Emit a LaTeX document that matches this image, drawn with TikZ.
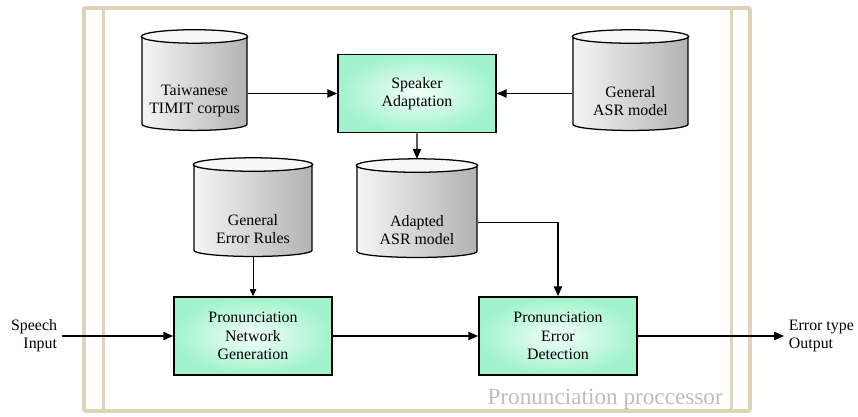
\documentclass[tikz,border=0pt]{standalone}
\usepackage{fontspec}
\setmainfont{Liberation Serif}
\usetikzlibrary{arrows.meta,positioning,shapes.geometric,calc}
\definecolor{Frame}{HTML}{DDD3B9}
\definecolor{Mint}{HTML}{A2F3CD}
\definecolor{MintIn}{HTML}{F3FFF9}
\definecolor{LabelGray}{HTML}{BDBDBD}

\begin{document}
\begin{tikzpicture}[x=0.025cm,y=-0.025cm,
  proc/.style={rectangle,draw=black,line width=1.2pt,inner color=MintIn,outer color=Mint,minimum width=3.95cm,minimum height=1.95cm,align=center,font=\fontsize{11.3}{13}\selectfont},
  dbase/.style={cylinder,shape border rotate=90,aspect=1.3,draw=black,line width=0.9pt,left color=gray!8,right color=gray!60,minimum height=2.5cm},
  dbtop/.style={draw=black,line width=0.9pt,fill=gray!6},
  dbtext/.style={align=center,font=\fontsize{11.3}{13}\selectfont},
  side/.style={font=\fontsize{11.3}{13}\selectfont},
  arr/.style={-{Triangle[length=7pt,width=6pt]},line width=0.9pt},
  arrsm/.style={-{Triangle[length=5pt,width=4.5pt]},line width=0.7pt},
  frame/.style={draw=Frame,line width=2.8pt,rounded corners=1.5pt}
]
\useasboundingbox (0,0) rectangle (858,416);
% frame of the processor
\draw[frame] (84,8) rectangle (750,411);
\draw[frame] (103.5,8) -- (103.5,411);
\draw[frame] (731.5,8) -- (731.5,411);
\node[font=\fontsize{16.5}{18}\selectfont,text=LabelGray,anchor=base east,inner sep=0pt] (ppl) at (723,404) {Pronunciation proccessor};

% databases
\node[dbase,minimum width=2.625cm] (tw) at (194.5,85) {};
\node[dbase,minimum width=2.875cm] (gasr) at (630.5,85) {};
\node[dbase,minimum width=2.95cm,minimum height=2.45cm] (ger) at (253,212) {};
\node[dbase,minimum width=3.0cm,minimum height=2.45cm] (aasr) at (417,213) {};
\foreach \db in {tw,gasr,ger,aasr}
  \draw[dbtop] let \p1=(\db.before top), \p2=(\db.after top), \p3=(\db.north),
    \p4=($(\db.before top)!.5!(\db.after top)$) in
    (\p4) ellipse ({abs(\x2-\x1)/2} and {abs(\y3-\y1)});
\node[dbtext] (twt) at (194.5,101) {Taiwanese\\TIMIT corpus};
\node[dbtext] (gasrt) at (630.5,101) {General\\ASR model};
\node[dbtext] (gert) at (253,229) {General\\Error Rules};
\node[dbtext] (aasrt) at (417,230) {Adapted\\ASR model};

% processing steps
\node[proc] (sa) at (417,93.5) {Speaker\\Adaptation};
\node[proc] (png) at (253,336) {Pronunciation\\Network\\Generation};
\node[proc] (ped) at (558,336) {Pronunciation\\Error\\Detection};

\node[side,align=right,anchor=east] (spin) at (62,336) {Speech\\Input};
\node[side,align=left,anchor=west] (eout) at (784,336) {Error type\\Output};

% connectors
\draw[arr] (tw.east |- sa.west) -- (sa.west);
\draw[arr] (gasr.west |- sa.east) -- (sa.east);
\draw[arr] (sa.south) -- (aasr.north);
\draw[arr] ([yshift=-7pt]aasr.east) -| (ped.north);
\draw[arrsm] (ger.south) -- (png.north);
\draw[arr] (spin) -- (png);
\draw[arr] (png) -- (ped);
\draw[arr] (ped) -- (eout);
\end{tikzpicture}
\end{document}
